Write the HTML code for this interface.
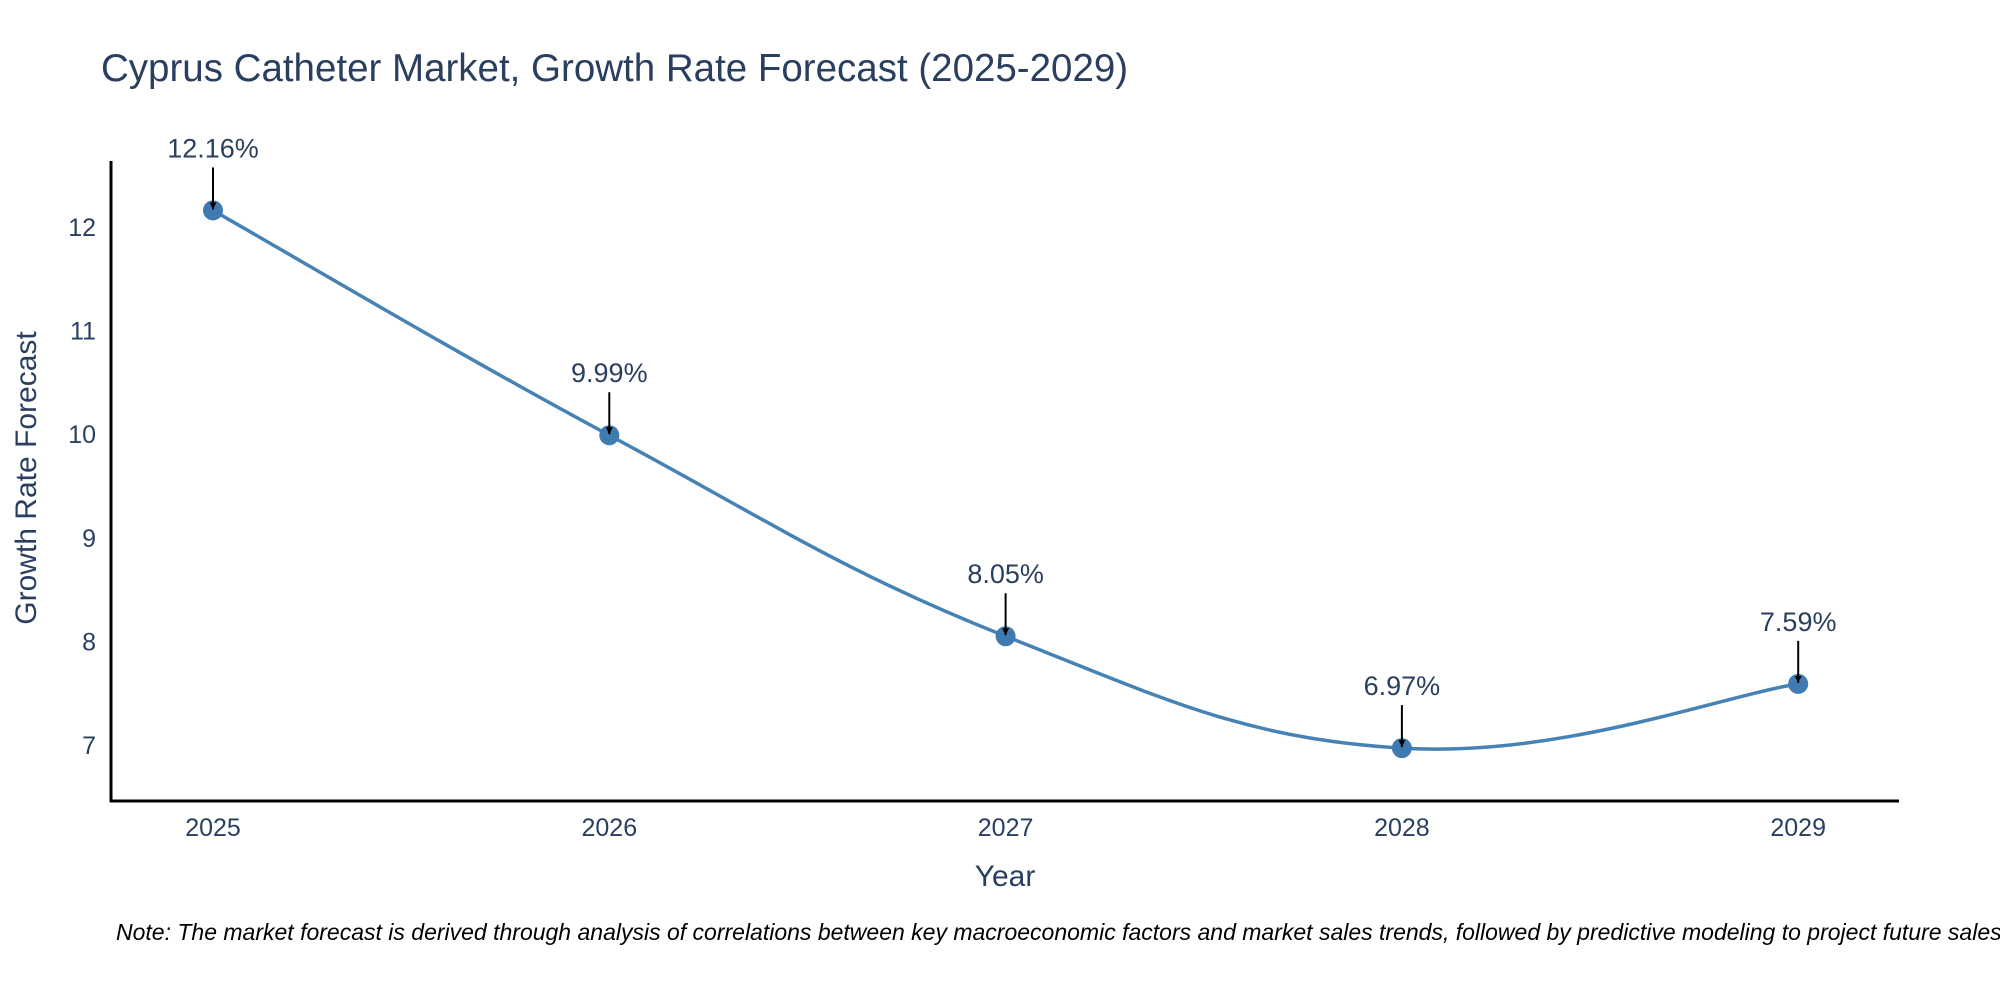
<!DOCTYPE html>
<html><head><meta charset="utf-8"><style>
body{margin:0;background:#fff}
svg{display:block;font-family:"Liberation Sans","DejaVu Sans",sans-serif}
</style></head><body>
<svg id="chart" width="2000" height="1000" viewBox="0 0 2000 1000">
<text x="101" y="81" font-size="38.5" fill="#2a3f5f">Cyprus Catheter Market, Growth Rate Forecast (2025-2029)</text>
<g id="plot"></g>
<text x="1005" y="886" font-size="30" fill="#2a3f5f" text-anchor="middle">Year</text>
<text x="0" y="0" font-size="30" fill="#2a3f5f" text-anchor="middle" transform="translate(36,478) rotate(-90)">Growth Rate Forecast</text>
<text x="116" y="940" font-size="23" font-style="italic" fill="#000">Note: The market forecast is derived through analysis of correlations between key macroeconomic factors and market sales trends, followed by predictive modeling to project future sales</text>
</svg>
<script>
const years = [2025, 2026, 2027, 2028, 2029];
const values = [12.16, 9.99, 8.05, 6.97, 7.59];
const labels = ["12.16%", "9.99%", "8.05%", "6.97%", "7.59%"];
const yTicks = [7, 8, 9, 10, 11, 12];

const NS = "http://www.w3.org/2000/svg";
const g = document.getElementById("plot");
function xs(v){ return 213 + (v - 2025) * 396.3; }
function ys(v){ return 745 - (v - 7) * 103.6; }
function mk(tag, attrs){ const e = document.createElementNS(NS, tag); for (const k in attrs) e.setAttribute(k, attrs[k]); g.appendChild(e); return e; }

const defs = mk("defs", {});
defs.innerHTML = '<marker id="ah" viewBox="0 0 10 10" refX="10" refY="5" markerWidth="7" markerHeight="7" markerUnits="userSpaceOnUse" orient="auto"><path d="M0,0 L10,5 L0,10 z" fill="#000"/></marker>';

const ya = mk("line", {x1:111, y1:161, x2:111, y2:802, stroke:"#000", "stroke-width":3});


const xa = mk("line", {x1:110, y1:801, x2:1899, y2:801, stroke:"#000", "stroke-width":3});



yTicks.forEach(t => {
  const tx = mk("text", {x:96, y:ys(t)+9, "font-size":25, fill:"#2a3f5f", "text-anchor":"end"});
  tx.textContent = t;
  
  
});
years.forEach(yr => {
  const tx = mk("text", {x:xs(yr), y:836, "font-size":25, fill:"#2a3f5f", "text-anchor":"middle"});
  tx.textContent = yr;
  
  
});

const pts = years.map((yr,i) => [xs(yr), ys(values[i])]);
let d = "M" + pts[0][0] + "," + pts[0][1];
const k = 0.2;
for (let i = 0; i < pts.length - 1; i++) {
  const p0 = pts[i-1] || pts[i], p1 = pts[i], p2 = pts[i+1], p3 = pts[i+2] || pts[i+1];
  const c1 = [p1[0] + (p2[0]-p0[0])*k, p1[1] + (p2[1]-p0[1])*k];
  const c2 = [p2[0] - (p3[0]-p1[0])*k, p2[1] - (p3[1]-p1[1])*k];
  d += " C" + c1 + " " + c2 + " " + p2;
}
const line = mk("path", {d:d, fill:"none", stroke:"#4682b4", "stroke-width":3.5});



pts.forEach((p, i) => {
  const c = mk("circle", {cx:p[0], cy:p[1], r:10, fill:"#3f7bb0"});
  
  
  const a = mk("line", {x1:p[0], y1:p[1]-43, x2:p[0], y2:p[1]-1, stroke:"#000", "stroke-width":2, "marker-end":"url(#ah)"});
  
  
  const t = mk("text", {x:p[0], y:p[1]-53, "font-size":27, fill:"#2a3f5f", "text-anchor":"middle"});
  t.textContent = labels[i];
  
  
});
</script>
</body></html>
